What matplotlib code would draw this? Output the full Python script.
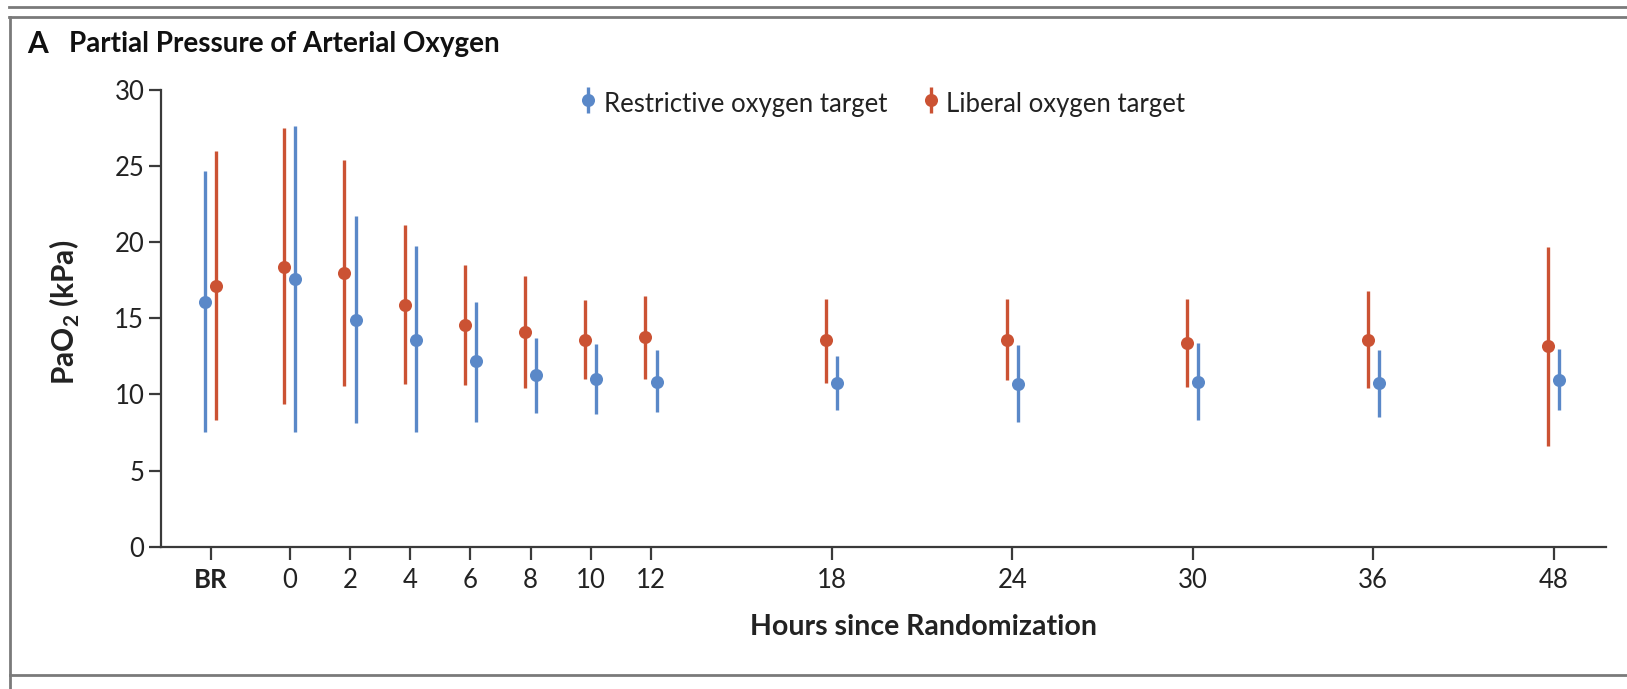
import matplotlib
matplotlib.use("Agg")
import matplotlib.pyplot as plt
from matplotlib.lines import Line2D
import numpy as np

# ---------------- data ----------------
time_labels = ["BR", "0", "2", "4", "6", "8", "10", "12", "18", "24", "30", "36", "48"]

restr_mean = [16.1, 17.6, 14.9, 13.6, 12.2, 11.25, 11.0, 10.8, 10.75, 10.7, 10.85, 10.75, 10.95]
restr_low  = [7.55, 7.55, 8.1, 7.55, 8.2, 8.8, 8.7, 8.85, 9.0, 8.2, 8.3, 8.5, 8.95]
restr_high = [24.7, 27.65, 21.7, 19.75, 16.1, 13.7, 13.3, 12.9, 12.5, 13.25, 13.4, 12.9, 13.0]

lib_mean = [17.15, 18.4, 18.0, 15.9, 14.55, 14.1, 13.6, 13.75, 13.55, 13.6, 13.4, 13.6, 13.2]
lib_low  = [8.35, 9.4, 10.55, 10.7, 10.6, 10.4, 11.0, 11.0, 10.75, 10.95, 10.5, 10.4, 6.6]
lib_high = [26.0, 27.5, 25.4, 21.1, 18.5, 17.8, 16.2, 16.45, 16.3, 16.3, 16.3, 16.8, 19.7]

series_names = ["Restrictive oxygen target", "Liberal oxygen target"]

# ---------------- layout ----------------
# axis positions of the time points (the original axis is not linear)
tick_pos = np.array([-2.63, 0, 2, 4, 6, 8, 10, 12, 18, 24, 30, 36, 42])
# side of restrictive marker relative to tick (-1 left, +1 right)
restr_side = np.array([-1] + [1] * 12)
offset = 0.185

BLUE = "#5a88c8"
RED = "#cb5233"
AXC = "#3a3a3a"
FRAME = "#7a7a7a"
TXT = "#222222"

plt.rcParams["font.family"] = ["Lato", "DejaVu Sans"]
plt.rcParams["mathtext.fontset"] = "custom"
plt.rcParams["mathtext.rm"] = "Lato"
plt.rcParams["mathtext.bf"] = "Lato:bold"

W, H = 1627, 689
fig = plt.figure(figsize=(W / 100, H / 100), dpi=100)
ax_l, ax_r, ax_b, ax_t = 161, 1606, 546.7, 90
ax = fig.add_axes([ax_l / W, 1 - ax_b / H, (ax_r - ax_l) / W, (ax_b - ax_t) / H])

def draw(mean, low, high, xs, color, label):
    mean = np.asarray(mean); low = np.asarray(low); high = np.asarray(high)
    yerr = np.vstack([mean - low, high - mean])
    return ax.errorbar(xs, mean, yerr=yerr, fmt="o", color=color, ecolor=color,
                       elinewidth=2.4, capsize=0, markersize=9.4, markeredgewidth=0,
                       label=label, zorder=3)

h_r = draw(restr_mean, restr_low, restr_high, tick_pos + restr_side * offset, BLUE, series_names[0])
h_l = draw(lib_mean, lib_low, lib_high, tick_pos - restr_side * offset, RED, series_names[1])

ax.set_xlim(-4.28, 43.73)
ax.set_ylim(0, 30)
ax.set_yticks([0, 5, 10, 15, 20, 25, 30])
ax.set_xticks(tick_pos)
ax.set_xticklabels(time_labels)
ax.get_xticklabels()[0].set_fontweight("bold")

for s in ["top", "right"]:
    ax.spines[s].set_visible(False)
for s in ["left", "bottom"]:
    ax.spines[s].set_color(AXC)
    ax.spines[s].set_linewidth(1.6)
ax.tick_params(axis="both", colors=AXC, labelcolor=TXT, labelsize=18.5,
               length=9, width=1.6, direction="out")
ax.tick_params(axis="x", pad=6)
ax.tick_params(axis="y", pad=3)

ax.set_xlabel("Hours since Randomization", fontsize=20.5, fontweight="bold", color=TXT)
ax.xaxis.set_label_coords((923 - ax_l) / (ax_r - ax_l), -(614 - ax_b) / (ax_b - ax_t))
ax.set_ylabel(r"PaO$_\mathbf{2}$ (kPa)", fontsize=21.5, fontweight="bold", color=TXT)
ax.yaxis.set_label_coords(-(161 - 82) / (ax_r - ax_l), (ax_b - 312.5) / (ax_b - ax_t))

leg = ax.legend(handles=[h_r, h_l], loc="center", ncol=2, frameon=False,
                fontsize=18.5, bbox_to_anchor=(0.5, (ax_b - 104) / (ax_b - ax_t)),
                handlelength=0.5, handleheight=1.55, handletextpad=0.35,
                columnspacing=1.45, borderaxespad=0, borderpad=0)
for t in leg.get_texts():
    t.set_color(TXT)

# title
fig.text(27 / W, 1 - 44 / H, "A", fontsize=21.5, fontweight="bold",
         color="#111111", va="center", ha="left")
fig.text(69 / W, 1 - 44 / H, "Partial Pressure of Arterial Oxygen", fontsize=20,
         fontweight="bold", color="#111111", va="center", ha="left")

# frame lines
def fl(x0, y0, x1, y1, lw=2.0):
    fig.add_artist(Line2D([x0 / W, x1 / W], [1 - y0 / H, 1 - y1 / H],
                          color=FRAME, lw=lw, transform=fig.transFigure))

fl(9, 6.5, W, 6.5)
fl(9, 16.5, W, 16.5)
fl(10, 16.5, 10, H)
fl(10, 674.5, W, 674.5)

fig.savefig("out.png", dpi=100)
